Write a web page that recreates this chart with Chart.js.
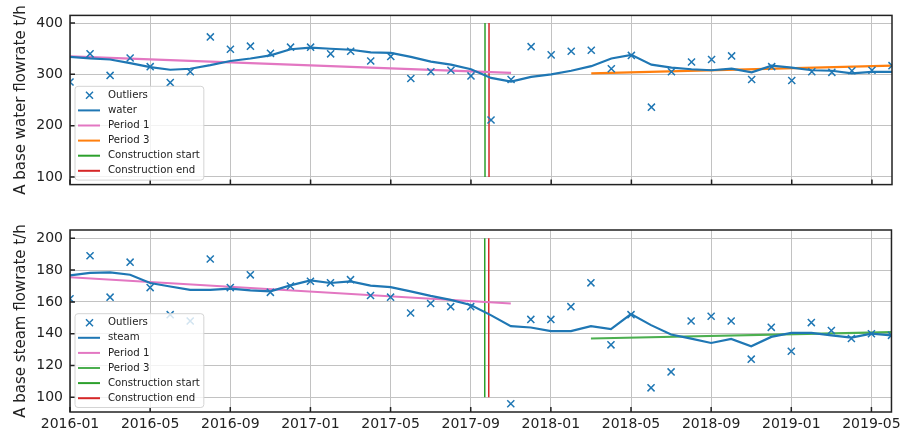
<!DOCTYPE html>
<html>
<head>
<meta charset="utf-8">
<script src="https://cdn.jsdelivr.net/npm/chart.js@4.4.1/dist/chart.umd.min.js"></script>
<style>
  body { margin: 0; background: #fff; }
  .panel { position: absolute; left: 0; width: 905px; }
  #waterPanel { top: 0; height: 200px; }
  #steamPanel { top: 205px; height: 235px; }
</style>
</head>
<body>
<div class="panel" id="waterPanel"><canvas id="waterChart" width="905" height="200"></canvas></div>
<div class="panel" id="steamPanel"><canvas id="steamChart" width="905" height="235"></canvas></div>
<script>
const months = [
  '2016-01','2016-02','2016-03','2016-04','2016-05','2016-06','2016-07','2016-08','2016-09','2016-10','2016-11','2016-12',
  '2017-01','2017-02','2017-03','2017-04','2017-05','2017-06','2017-07','2017-08','2017-09','2017-10','2017-11','2017-12',
  '2018-01','2018-02','2018-03','2018-04','2018-05','2018-06','2018-07','2018-08','2018-09','2018-10','2018-11','2018-12',
  '2019-01','2019-02','2019-03','2019-04','2019-05','2019-06'
];
const xTickLabels = ['2016-01','2016-05','2016-09','2017-01','2017-05','2017-09','2018-01','2018-05','2018-09','2019-01','2019-05'];

const waterOutliers = [
  285, 340, 298, 332, 315, 284, 305, 373, 349, 355, 341, 353,
  353, 340, 345, 326, 335, 292, 305, 308, 297, 211, 290, 354,
  338, 345, 347, 311, 337, 236, 305, 324, 329, 336, 290, 315,
  288, 305, 304, 307, 308, 317
];
const water = [
  334, 331, 329, 322, 314, 309, 311, 318, 326, 331, 337, 349,
  352, 350, 348, 343, 342, 334, 325, 319, 310, 293, 286, 295,
  300, 307, 316, 331, 338, 319, 313, 310, 308, 311, 304, 317,
  313, 308, 307, 302, 305, 305
];
const steamOutliers = [
  162, 189, 163, 185, 169, 152, 148, 187, 169, 177, 166, 170,
  173, 172, 174, 164, 163, 153, 159, 157, 157, null, 96, 149,
  149, 157, 172, 133, 152, 106, 116, 148, 151, 148, 124, 144,
  129, 147, 142, 137, 140, 139
];
const steam = [
  176.7, 178.2, 178.6, 177.1, 171.9, 169.7, 167.6, 167.6, 168.3, 167.2, 166.6, 170.4,
  173.5, 171.9, 172.9, 170.2, 169.3, 166.6, 163.8, 161.3, 158.1, 151.7, 144.8, 143.9,
  141.6, 141.6, 144.8, 142.9, 152.4, 145.4, 139.5, 136.9, 134.2, 136.7, 132.1, 138.0,
  140.5, 140.5, 139.0, 137.6, 140.1, 139.0
];

// fitted trend lines: start and end month of each period
const period1Months = ['2016-01', '2017-11'];
const period3Months = ['2018-03', '2019-06'];
const period1Water = [335, 303];
const period3Water = [302, 317];
const period1Steam = [175.5, 159];
const period3Steam = [137, 141];

const constructionStart = '2017-09-22';
const constructionEnd = '2017-09-28';

const waterTicks = [100, 200, 300, 400];
const steamTicks = [100, 120, 140, 160, 180, 200];

Chart.defaults.font.family = '"DejaVu Sans", sans-serif';
Chart.defaults.color = '#222';

// months since 2016-01, fractional for a day within the month
function monthPos(s) {
  const [y, m, d] = s.split('-').map(Number);
  const days = new Date(y, m, 0).getDate();
  return (y - 2016) * 12 + (m - 1) + (d ? (d - 1) / days : 0);
}
const xTickPos = xTickLabels.map(monthPos);

// black box round the plot with short inward ticks
const frameTicks = {
  id: 'frameTicks',
  afterDraw(chart) {
    const { ctx, chartArea: a, scales } = chart;
    ctx.save();
    ctx.strokeStyle = '#222';
    ctx.lineWidth = 1.5;
    ctx.beginPath();
    scales.x.ticks.forEach(t => {
      const px = scales.x.getPixelForValue(t.value);
      ctx.moveTo(px, a.bottom);
      ctx.lineTo(px, a.bottom - 5);
    });
    scales.y.ticks.forEach(t => {
      const py = scales.y.getPixelForValue(t.value);
      ctx.moveTo(a.left, py);
      ctx.lineTo(a.left + 5, py);
    });
    ctx.stroke();
    ctx.strokeRect(a.left, a.top, a.right - a.left, a.bottom - a.top);
    ctx.restore();
  }
};

// legend in a faded box in the lower left corner of the plot
const boxLegend = {
  id: 'boxLegend',
  afterDraw(chart) {
    const { ctx, chartArea: a } = chart;
    const items = chart.data.datasets;
    const rowH = 15.1;
    ctx.save();
    ctx.font = '10.2px "DejaVu Sans"';
    const textW = Math.max(...items.map(d => ctx.measureText(d.label).width));
    const w = 33 + textW + 4;
    const h = 18.3 + rowH * (items.length - 1);
    const x = a.left + 5;
    const y = a.bottom - 4.5 - h;
    ctx.beginPath();
    ctx.roundRect(x, y, w, h, 3);
    ctx.fillStyle = 'rgba(255,255,255,0.8)';
    ctx.fill();
    ctx.strokeStyle = '#d4d4d4';
    ctx.lineWidth = 1;
    ctx.stroke();
    items.forEach((d, i) => {
      const cy = y + 9 + i * rowH;
      ctx.strokeStyle = d.borderColor;
      ctx.beginPath();
      if (d.type === 'scatter') {
        ctx.lineWidth = 1.5;
        ctx.moveTo(x + 11, cy - 3.5); ctx.lineTo(x + 18, cy + 3.5);
        ctx.moveTo(x + 11, cy + 3.5); ctx.lineTo(x + 18, cy - 3.5);
      } else {
        ctx.lineWidth = 2;
        ctx.moveTo(x + 3, cy); ctx.lineTo(x + 25, cy);
      }
      ctx.stroke();
      ctx.fillStyle = '#222';
      ctx.textBaseline = 'middle';
      ctx.fillText(d.label, x + 33, cy);
    });
    ctx.restore();
  }
};

function series(values) {
  return values.map((v, i) => ({ x: monthPos(months[i]), y: v }));
}
function segment(ms, values) {
  return ms.map((m, i) => ({ x: monthPos(m), y: values[i] }));
}
function vline(date, range) {
  return range.map(v => ({ x: monthPos(date), y: v }));
}

function lineSet(label, data, color, width) {
  return { type: 'line', label, data, borderColor: color, backgroundColor: color,
           borderWidth: width, pointRadius: 0, tension: 0 };
}

function makeChart(id, cfg) {
  return new Chart(document.getElementById(id), {
    data: {
      datasets: [
        { type: 'scatter', label: 'Outliers', data: series(cfg.outliers),
          borderColor: '#1f77b4', backgroundColor: '#1f77b4',
          pointStyle: 'crossRot', pointRadius: 5, pointBorderWidth: 1.5 },
        lineSet(cfg.name, series(cfg.line), '#1f77b4', 2.2),
        lineSet('Period 1', segment(period1Months, cfg.p1), '#e377c2', 2.2),
        lineSet('Period 3', segment(period3Months, cfg.p3), cfg.p3Color, 2.2),
        lineSet('Construction start', vline(constructionStart, cfg.vRange), '#2ca02c', 1.5),
        lineSet('Construction end', vline(constructionEnd, cfg.vRange), '#d62728', 1.5)
      ]
    },
    options: {
      responsive: false,
      animation: false,
      events: [],
      layout: { padding: cfg.padding },
      plugins: { legend: { display: false }, tooltip: { enabled: false } },
      scales: {
        x: {
          type: 'linear',
          min: 0,
          max: monthPos('2019-06'),
          afterBuildTicks: s => { s.ticks = xTickPos.map(v => ({ value: v })); },
          afterFit: s => { s.height = cfg.showX ? 28 : 0; },
          ticks: {
            display: cfg.showX,
            callback: (v, i) => xTickLabels[i],
            font: { size: 14 },
            padding: 4,
            maxRotation: 0,
            autoSkip: false
          },
          grid: { color: '#c2c2c2', drawTicks: false },
          border: { display: false }
        },
        y: {
          min: cfg.yMin,
          max: cfg.yMax,
          afterBuildTicks: s => { s.ticks = cfg.yTicks.map(v => ({ value: v })); },
          afterFit: s => { s.width = 70; },
          ticks: { font: { size: 14 }, padding: 7 },
          grid: { color: '#c2c2c2', drawTicks: false },
          border: { display: false },
          title: { display: true, text: cfg.title, font: { size: 15 }, padding: { top: 12, bottom: 0 } }
        }
      }
    },
    plugins: [frameTicks, boxLegend]
  });
}

makeChart('waterChart', {
  name: 'water', outliers: waterOutliers, line: water,
  p1: period1Water, p3: period3Water, p3Color: '#ff7f0e',
  vRange: [100, 400], yMin: 85, yMax: 415, yTicks: waterTicks,
  title: 'A base water flowrate t/h', showX: false,
  padding: { left: 0, right: 13, top: 12, bottom: 7 }
});

makeChart('steamChart', {
  name: 'steam', outliers: steamOutliers, line: steam,
  p1: period1Steam, p3: period3Steam, p3Color: '#4caf50',
  vRange: [100, 200], yMin: 90.8, yMax: 205.2, yTicks: steamTicks,
  title: 'A base steam flowrate t/h', showX: true,
  padding: { left: 0, right: 13, top: 25, bottom: 0 }
});
</script>
</body>
</html>
